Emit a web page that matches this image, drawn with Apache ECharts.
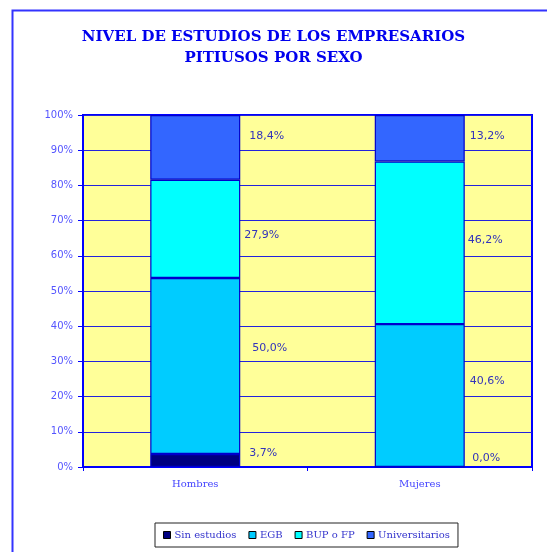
<!DOCTYPE html>
<html>
<head>
<meta charset="utf-8">
<script src="https://cdn.jsdelivr.net/npm/echarts@6/dist/echarts.min.js"></script>
<style>html,body{margin:0;padding:0;background:#fff;}#c{width:547px;height:552px;}</style>
</head>
<body>
<div id="c"></div>
<script>
const categories = ['Hombres', 'Mujeres'];
const seriesNames = ['Sin estudios', 'EGB', 'BUP o FP', 'Universitarios'];
const sinEstudios = [3.7, 0.0];
const egb = [50.0, 40.6];
const bupFp = [27.9, 46.2];
const universitarios = [18.4, 13.2];
const yTicks = ['0%', '10%', '20%', '30%', '40%', '50%', '60%', '70%', '80%', '90%', '100%'];

const colors = ['#000080', '#00ccff', '#00ffff', '#3366ff'];
// label offsets (style only), per series per category
const labelOffsets = [
  [[4, -7], [2, -9]],
  [[7, -18], [0, -14]],
  [[-1, 6], [-2, -3]],
  [[4, -11], [0, -2]]
];
const allValues = [sinEstudios, egb, bupFp, universitarios];

const chart = echarts.init(document.getElementById('c'));
const series = seriesNames.map((name, si) => ({
  name: name,
  type: 'bar',
  stack: 'total',
  barWidth: 90,
  itemStyle: { color: colors[si], borderColor: '#0000cc', borderWidth: 1.2 },
  label: {
    show: true,
    position: 'right',
    distance: 5,
    color: '#3333bb',
    fontFamily: 'DejaVu Sans',
    fontSize: 11,
    formatter: p => p.value.toFixed(1).replace('.', ',') + '%'
  },
  data: allValues[si].map((v, ci) => ({ value: v, label: { offset: labelOffsets[si][ci] } }))
}));

chart.setOption({
  animation: false,
  backgroundColor: '#ffffff',
  title: {
    text: 'NIVEL DE ESTUDIOS DE LOS EMPRESARIOS\nPITIUSOS POR SEXO',
    left: 'center',
    top: 22,
    textStyle: { color: '#0000ee', fontFamily: 'DejaVu Serif', fontWeight: 'bold', fontSize: 15, lineHeight: 21 }
  },
  graphic: [{
    type: 'rect', left: 10, top: 8, z: -1,
    shape: { width: 600, height: 600 },
    style: { fill: null, stroke: '#3333ff', lineWidth: 2 }
  }],
  legend: {
    bottom: 5,
    left: 155,
    data: seriesNames,
    icon: 'rect',
    itemWidth: 7,
    itemHeight: 7,
    itemGap: 12,
    padding: [7, 8, 7, 8],
    borderColor: '#222222',
    borderWidth: 1,
    textStyle: { color: '#3333cc', fontFamily: 'DejaVu Serif', fontSize: 10, padding: [0, 0, 0, -1] },
    itemStyle: { borderColor: '#000000', borderWidth: 1 }
  },
  grid: { left: 83, right: 15, top: 115, bottom: 85, show: true, backgroundColor: '#ffff99', borderColor: '#0000ff', borderWidth: 2 },
  xAxis: {
    type: 'category',
    data: categories,
    axisLine: { lineStyle: { color: '#0000ff', width: 2 } },
    axisTick: { show: true, length: 4, lineStyle: { color: '#0000ff' } },
    axisLabel: { color: '#4444ff', fontFamily: 'DejaVu Serif', fontSize: 10, margin: 12 }
  },
  yAxis: {
    type: 'value',
    min: 0, max: 100, interval: 10,
    axisLine: { show: true, lineStyle: { color: '#0000ff', width: 2 } },
    axisTick: { show: true, length: 5, lineStyle: { color: '#0000ff' } },
    axisLabel: { color: '#5555ff', fontFamily: 'DejaVu Sans', fontSize: 10, margin: 10, formatter: v => yTicks[Math.round(v / 10)] },
    splitLine: { show: true, lineStyle: { color: '#2222dd', width: 1 } }
  },
  series: series
});
</script>
</body>
</html>
